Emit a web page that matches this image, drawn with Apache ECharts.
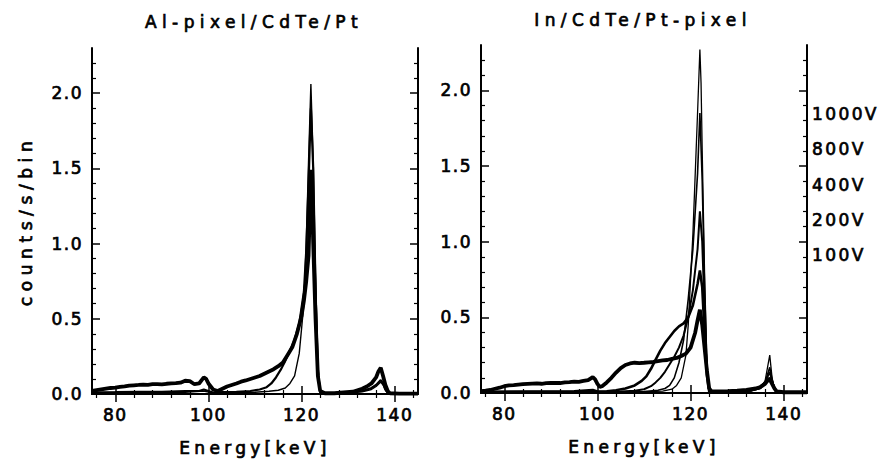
<!DOCTYPE html>
<html>
<head>
<meta charset="utf-8">
<script src="https://cdn.jsdelivr.net/npm/echarts@6/dist/echarts.min.js"></script>
<style>
  html, body { margin: 0; padding: 0; background: #fff; }
  #chart { width: 883px; height: 465px; }
</style>
</head>
<body>
<div id="chart"></div>
<script>
// ---- Al-pixel/CdTe/Pt spectra: energy (keV) and rate (counts/s/bin) ----
const alBroadE = [75, 76, 77, 78, 79, 80, 81, 82, 83, 84, 85, 86, 87, 88, 89, 90, 91, 92, 93, 94, 95, 96, 97, 98, 99, 99.5, 100, 101, 102, 103, 104, 105, 106, 107, 108, 109, 110, 111, 112, 113, 114, 115, 116, 117, 118, 119, 120, 120.5, 121, 121.5, 121.75, 122, 122.25, 122.5, 123, 123.5, 124, 125, 127, 129, 131, 133, 134, 135, 136, 136.5, 137, 137.5, 138, 138.5, 139, 141, 143, 145];
const alBroadV = [0.02, 0.025, 0.03, 0.035, 0.04, 0.042, 0.047, 0.05, 0.055, 0.058, 0.06, 0.063, 0.061, 0.065, 0.066, 0.064, 0.068, 0.07, 0.072, 0.075, 0.088, 0.085, 0.065, 0.07, 0.11, 0.10, 0.07, 0.03, 0.02, 0.035, 0.05, 0.06, 0.07, 0.082, 0.09, 0.1, 0.11, 0.12, 0.135, 0.15, 0.165, 0.185, 0.21, 0.26, 0.31, 0.4, 0.52, 0.62, 0.75, 0.92, 1.2, 1.49, 1.3, 1.0, 0.5, 0.12, 0.02, 0.005, 0.005, 0.01, 0.015, 0.035, 0.05, 0.07, 0.11, 0.15, 0.175, 0.12, 0.06, 0.02, 0.005, 0.003, 0.003, 0.003];

const alMidE = [75, 80, 85, 90, 95, 98, 99, 100, 101, 103, 106, 109, 111, 112.5, 113.5, 114.5, 115.5, 116.5, 117.5, 118.5, 119.5, 120.5, 121, 121.5, 122, 122.5, 123, 123.5, 124, 126, 130, 133, 135, 136, 137, 137.5, 138, 138.5, 140, 145];
const alMidV = [0.01, 0.012, 0.015, 0.015, 0.02, 0.02, 0.03, 0.02, 0.01, 0.012, 0.015, 0.02, 0.03, 0.045, 0.07, 0.11, 0.16, 0.22, 0.29, 0.36, 0.47, 0.68, 0.95, 1.4, 1.9, 1.5, 0.7, 0.15, 0.01, 0.005, 0.008, 0.02, 0.04, 0.06, 0.093, 0.07, 0.03, 0.008, 0.003, 0.003];

const alNarrowE = [75, 80, 85, 90, 95, 99, 100, 101, 105, 110, 113, 115, 116.5, 117.5, 118.5, 119.5, 120.5, 121, 121.5, 122, 122.5, 123, 123.5, 124, 126, 130, 133, 135, 136, 137, 137.5, 138, 138.5, 140, 145];
const alNarrowV = [0.008, 0.01, 0.01, 0.012, 0.012, 0.02, 0.012, 0.008, 0.01, 0.012, 0.018, 0.025, 0.04, 0.07, 0.12, 0.27, 0.6, 1.0, 1.55, 2.06, 1.55, 0.8, 0.2, 0.01, 0.004, 0.006, 0.015, 0.03, 0.05, 0.08, 0.06, 0.025, 0.006, 0.003, 0.003];

// ---- In/CdTe/Pt-pixel spectra at several bias voltages ----
const in100E = [75, 76, 77, 78, 79, 80, 81, 82, 83, 84, 85, 86, 87, 88, 89, 90, 91, 92, 93, 94, 95, 96, 97, 98, 99, 99.5, 100, 100.5, 101, 102, 103, 104, 105, 106, 107, 108, 109, 110, 111, 112, 113, 114, 115, 116, 117, 118, 119, 120, 121, 121.5, 122, 122.5, 123, 123.5, 124, 124.5, 126, 128, 130, 132, 134, 135, 136, 136.5, 137, 137.5, 138, 138.5, 140, 145];
const in100V = [0.012, 0.015, 0.02, 0.028, 0.035, 0.045, 0.05, 0.052, 0.055, 0.058, 0.06, 0.062, 0.063, 0.061, 0.065, 0.066, 0.067, 0.066, 0.07, 0.072, 0.075, 0.074, 0.08, 0.085, 0.105, 0.09, 0.06, 0.04, 0.045, 0.07, 0.1, 0.135, 0.165, 0.185, 0.195, 0.2, 0.198, 0.2, 0.203, 0.205, 0.21, 0.215, 0.218, 0.225, 0.232, 0.245, 0.26, 0.3, 0.4, 0.48, 0.55, 0.45, 0.3, 0.15, 0.03, 0.01, 0.01, 0.012, 0.015, 0.02, 0.03, 0.04, 0.06, 0.08, 0.09, 0.06, 0.03, 0.01, 0.005, 0.005];

const in200E = [75, 85, 95, 99, 100, 102, 104, 106, 108, 109.5, 110.5, 111.5, 112.5, 113.5, 114.5, 115.5, 116.5, 117.5, 118.5, 119.5, 120.5, 121.5, 122, 122.5, 123, 123.5, 124, 126, 130, 133, 135, 136, 137, 137.5, 138, 138.5, 140, 145];
const in200V = [0.008, 0.01, 0.012, 0.02, 0.01, 0.012, 0.018, 0.03, 0.05, 0.08, 0.11, 0.16, 0.22, 0.28, 0.33, 0.37, 0.41, 0.44, 0.46, 0.5, 0.58, 0.72, 0.81, 0.7, 0.4, 0.12, 0.01, 0.006, 0.01, 0.02, 0.04, 0.07, 0.1, 0.07, 0.03, 0.006, 0.004, 0.004];

const in400E = [75, 85, 95, 99, 100, 105, 108, 110, 111.5, 112.5, 113.5, 114.5, 115.5, 116.5, 117.5, 118.5, 119.5, 120.5, 121.5, 122, 122.5, 123, 123.5, 124, 126, 130, 133, 135, 136, 137, 137.5, 138, 138.5, 140, 145];
const in400V = [0.006, 0.008, 0.01, 0.015, 0.008, 0.01, 0.015, 0.025, 0.045, 0.07, 0.1, 0.14, 0.19, 0.24, 0.3, 0.38, 0.5, 0.68, 0.95, 1.2, 1.0, 0.55, 0.15, 0.01, 0.005, 0.008, 0.018, 0.035, 0.07, 0.14, 0.08, 0.03, 0.005, 0.003, 0.003];

const in800E = [75, 85, 95, 99, 100, 105, 110, 113, 114.5, 115.5, 116.5, 117.5, 118.5, 119.5, 120.5, 121.5, 122, 122.5, 123, 123.5, 124, 126, 130, 133, 135, 136, 137, 137.5, 138, 138.5, 140, 145];
const in800V = [0.005, 0.006, 0.008, 0.012, 0.006, 0.006, 0.01, 0.018, 0.03, 0.05, 0.1, 0.2, 0.35, 0.62, 0.95, 1.45, 1.85, 1.4, 0.7, 0.2, 0.01, 0.004, 0.007, 0.015, 0.03, 0.07, 0.17, 0.09, 0.03, 0.005, 0.003, 0.003];

const in1000E = [75, 85, 95, 99, 100, 105, 110, 114, 116, 117, 118, 119, 119.5, 120, 120.5, 121, 121.5, 122, 122.25, 122.5, 123, 123.5, 124, 126, 130, 133, 135, 136, 137, 137.5, 138, 138.5, 140, 145];
const in1000V = [0.004, 0.005, 0.006, 0.01, 0.005, 0.005, 0.007, 0.012, 0.025, 0.05, 0.1, 0.25, 0.45, 0.75, 1.05, 1.45, 1.85, 2.27, 2.05, 1.6, 0.8, 0.2, 0.01, 0.004, 0.006, 0.013, 0.03, 0.08, 0.25, 0.1, 0.03, 0.005, 0.003, 0.003];

// ---- Axis ticks and labels ----
const xMajorTicks = [80, 100, 120, 140];
const xMinorTicks = [76, 84, 88, 92, 96, 104, 108, 112, 116, 124, 128, 132, 136, 144];
const yMajorTicks = [0, 0.5, 1.0, 1.5, 2.0];
const yMinorTicks = [0.1, 0.2, 0.3, 0.4, 0.6, 0.7, 0.8, 0.9, 1.1, 1.2, 1.3, 1.4, 1.6, 1.7, 1.8, 1.9, 2.1, 2.2];
const panelTitles = ['Al-pixel/CdTe/Pt', 'In/CdTe/Pt-pixel'];
const voltageLabels = ['1000V', '800V', '400V', '200V', '100V'];
const xAxisName = 'Energy[keV]';
const yAxisName = 'counts/s/bin';

const FONT = 'DejaVu Sans';
const INK = '#000';

const pairs = (xs, ys) => xs.map((x, i) => [x, ys[i]]);

const grids = [
  { left: 92, top: 48, width: 326, height: 346 },
  { left: 481, top: 45, width: 326, height: 348 }
];

// regular weight with a thin outline for a slightly heavier stroke
const labelFont = { color: INK, fontFamily: FONT, fontSize: 17, textBorderColor: INK, textBorderWidth: 0.7 };

const xAxes = [];
const yAxes = [];
grids.forEach((g, gi) => {
  ['bottom', 'top'].forEach(pos => {
    const isMain = pos === 'bottom';
    xAxes.push({
      gridIndex: gi, type: 'value', min: 75, max: 145, position: pos,
      axisLine: { show: true, lineStyle: { color: INK, width: 2 } },
      axisTick: { show: true, inside: true, length: 8, customValues: xMajorTicks, lineStyle: { color: INK, width: 1.5 } },
      axisLabel: isMain
        ? Object.assign({ show: true, customValues: xMajorTicks, margin: 12 }, labelFont)
        : { show: false },
      splitLine: { show: false },
      name: isMain ? xAxisName : '',
      nameLocation: 'middle', nameGap: 45,
      nameTextStyle: labelFont
    });
    xAxes.push({
      gridIndex: gi, type: 'value', min: 75, max: 145, position: pos,
      axisLine: { show: false },
      axisTick: { show: true, inside: true, length: 4, customValues: xMinorTicks, lineStyle: { color: INK, width: 1.2 } },
      axisLabel: { show: false },
      splitLine: { show: false }
    });
  });
  ['left', 'right'].forEach(pos => {
    const isMain = pos === 'left';
    yAxes.push({
      gridIndex: gi, type: 'value', min: 0, max: 2.3, position: pos,
      axisLine: { show: true, lineStyle: { color: INK, width: 2 } },
      axisTick: { show: true, inside: true, length: 8, customValues: yMajorTicks, lineStyle: { color: INK, width: 1.5 } },
      axisLabel: isMain
        ? Object.assign({ show: true, customValues: yMajorTicks, margin: 9,
            formatter: v => Number(v).toFixed(1) }, labelFont)
        : { show: false },
      splitLine: { show: false },
      name: (isMain && gi === 0) ? yAxisName : '',
      nameLocation: 'middle', nameGap: 58,
      nameTextStyle: labelFont
    });
    yAxes.push({
      gridIndex: gi, type: 'value', min: 0, max: 2.3, position: pos,
      axisLine: { show: false },
      axisTick: { show: true, inside: true, length: 4, customValues: yMinorTicks, lineStyle: { color: INK, width: 1.2 } },
      axisLabel: { show: false },
      splitLine: { show: false }
    });
  });
});

// series on grid 0 use xAxis 0 / yAxis 0, on grid 1 use xAxis 4 / yAxis 4
const spectrum = (name, xs, ys, gi, width) => ({
  name, type: 'line', xAxisIndex: gi * 4, yAxisIndex: gi * 4,
  data: pairs(xs, ys), showSymbol: false, symbol: 'none',
  lineStyle: { color: INK, width }, silent: true, z: 3
});

const series = [
  spectrum('Al broad', alBroadE, alBroadV, 0, 3.8),
  spectrum('Al mid', alMidE, alMidV, 0, 2.2),
  spectrum('Al narrow', alNarrowE, alNarrowV, 0, 1.4),
  spectrum('100V', in100E, in100V, 1, 3.8),
  spectrum('200V', in200E, in200V, 1, 2.6),
  spectrum('400V', in400E, in400V, 1, 2.0),
  spectrum('800V', in800E, in800V, 1, 1.6),
  spectrum('1000V', in1000E, in1000V, 1, 1.3)
];

const textStyle = (text, align) => ({
  text, fill: INK, fontFamily: FONT, fontSize: 17,
  stroke: INK, lineWidth: 0.7,
  textAlign: align, textVerticalAlign: 'middle'
});

const graphic = [
  { type: 'text', x: 254, y: 22, style: textStyle(panelTitles[0], 'center') },
  { type: 'text', x: 643, y: 20, style: textStyle(panelTitles[1], 'center') }
];
voltageLabels.forEach((t, i) => {
  graphic.push({ type: 'text', x: 812, y: 114 + i * 35.3, style: textStyle(t, 'left') });
});

const chart = echarts.init(document.getElementById('chart'), null, { renderer: 'svg' });
chart.setOption({
  animation: false,
  backgroundColor: '#fff',
  grid: grids,
  xAxis: xAxes,
  yAxis: yAxes,
  series,
  graphic
});

// Wider tracking for the plot lettering
function track() {
  chart.getDom().querySelectorAll('text').forEach(t => {
    const s = t.textContent;
    let sp = 1.5;
    if (panelTitles.includes(s)) sp = 5.4;
    else if (s === xAxisName) sp = 4.3;
    else if (s === yAxisName) sp = 5.6;
    else if (voltageLabels.includes(s)) sp = 2.4;
    t.setAttribute('letter-spacing', sp);
  });
}
track();
chart.on('finished', track);
</script>
</body>
</html>
